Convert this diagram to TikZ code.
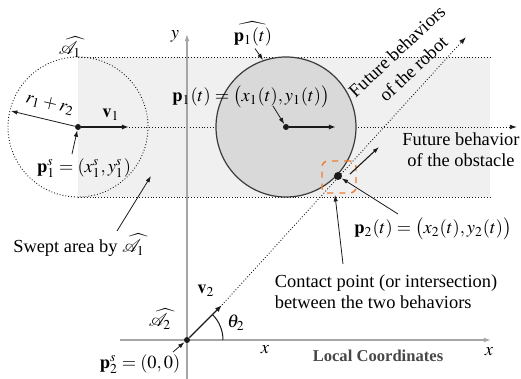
\documentclass[tikz,border=0pt]{standalone}
\usepackage{mathptmx}
\usepackage{fontspec}
\setmainfont{Liberation Serif}
\usepackage{tikz}
\usetikzlibrary{arrows.meta,positioning,calc}
\definecolor{sweptcolor}{HTML}{F0F0F0}
\definecolor{obstaclecolor}{HTML}{D9D9D9}
\definecolor{axiscolor}{HTML}{A6A6A6}
\definecolor{contactcolor}{HTML}{ED7D31}
\definecolor{ink}{HTML}{1A1A1A}
\tikzset{
  lbl/.style={inner sep=1pt, font=\fontsize{9.2}{10.5}\selectfont},
  smalllbl/.style={inner sep=1pt, font=\fontsize{8.3}{10}\selectfont\bfseries, text=ink!80},
  dotnode/.style={circle, fill=ink, inner sep=0pt, minimum size=3pt},
  trackline/.style={densely dotted, line width=0.45pt, draw=ink},
  pointarrow/.style={-{Latex[length=3.2pt,width=2.2pt]}, line width=0.4pt, draw=ink},
  velarrow/.style={-{Latex[length=3.6pt,width=2.6pt]}, line width=0.7pt, draw=ink},
  axisarrow/.style={-{Latex[length=3.6pt,width=2.4pt]}, line width=0.6pt, draw=axiscolor},
  contactbox/.style={draw=contactcolor, dashed, line width=0.7pt, rounded corners=3pt,
    minimum width=17pt, minimum height=16pt, inner sep=0pt}
}

\begin{document}
\begin{tikzpicture}[x=0.5pt, y=-0.5pt]
  \useasboundingbox (0,0) rectangle (521,379);
  % swept band of the obstacle
  \fill[sweptcolor] (78,57) rectangle (490,197);
  \draw[trackline] (78,57) -- (490,57);
  \draw[trackline] (78,197) -- (490,197);
  \node[dotnode] (p1s) at (78,127) {};
  \draw[trackline] (p1s) circle (70);
  \coordinate (obsend) at (517,127);
  \coordinate (v1s) at (129,127);
  \draw[trackline, -{Latex[length=3.6pt,width=2.4pt]}] (v1s) -- (obsend);
  \draw[velarrow] (p1s) -- (v1s);
  % obstacle at time t
  \node[circle, draw=ink!85, fill=obstaclecolor, line width=0.6pt, minimum size=70pt, inner sep=0pt] (obs) at (286,127) {};
  \node[dotnode] (p1t) at (286,127) {};
  \coordinate (v1t) at (336,127);
  \draw[velarrow] (p1t) -- (v1t);
  % local axes
  \coordinate (ybot) at (187,379);
  \coordinate (ytop) at (187,34);
  \coordinate (xleft) at (120,340);
  \coordinate (xright) at (491,340);
  \draw[axisarrow] (ybot) -- (ytop);
  \draw[axisarrow] (xleft) -- (xright);
  % robot
  \node[dotnode] (p2s) at (187,340) {};
  \coordinate (v2tip) at (222,305);
  \coordinate (robend) at (466,37);
  \draw[trackline, -{Latex[length=3.6pt,width=2.4pt]}] (v2tip) -- (robend);
  \draw[velarrow] (p2s) -- (v2tip);
  \draw[line width=0.5pt, draw=ink] (223,340) arc[start angle=0, end angle=-45, radius=36];
  % contact point
  \node[dotnode, minimum size=4pt] (p2t) at (338,176) {};
  \node[contactbox] (cbox) at (339,177) {};
  \coordinate (cvs) at (350,174);
  \coordinate (cve) at (379,147);
  \draw[pointarrow, line width=0.55pt] (cvs) -- (cve);
  % left circle labels
  \coordinate (redge) at (11,111);
  \draw[pointarrow] (p1s) -- (redge);
  \node[lbl] (A1) at (70,47) {$\widehat{\mathcal{A}}_1$};
  \node[lbl, rotate=-13] (rsum) at (50,104) {$r_1+r_2$};
  \node[lbl] (v1) at (111,115) {$\mathbf{v}_1$};
  \node[lbl] (p1slbl) at (84,168) {$\mathbf{p}_1^s=(x_1^s,y_1^s)$};
  \draw[pointarrow] (72,154) -- (p1s);
  \node[lbl] (swept) at (79,245) {Swept area by $\widehat{\mathcal{A}}_1$};
  \coordinate (sweptin) at (151,176);
  \draw[pointarrow] (117,231) -- (sweptin);
  % obstacle labels
  \node[lbl] (p1hat) at (253,34) {$\widehat{\mathbf{p}_1(t)}$};
  \draw[pointarrow] (p1hat.south) ++(2,0) -- (263,60);
  \node[lbl] (p1tlbl) at (251,97) {$\mathbf{p}_1(t)=\bigl(x_1(t),y_1(t)\bigr)$};
  \draw[pointarrow] (273,106) -- (p1t);
  \node[lbl, align=center] (obsfut) at (461,150) {Future behavior\\of the obstacle};
  \node[lbl, align=center, rotate=43, font=\fontsize{9.2}{12}\selectfont] (robfut) at (405,60) {Future behaviors\\of the robot};
  % robot labels
  \node[lbl] (ylbl) at (175,36) {$y$};
  \node[lbl] (xlbl) at (265,350) {$x$};
  \node[lbl] (xlbl2) at (489,352) {$x$};
  \node[smalllbl] (local) at (378,356) {Local Coordinates};
  \node[lbl] (v2) at (206,291) {$\mathbf{v}_2$};
  \node[lbl] (theta) at (236,323) {$\theta_2$};
  \node[lbl] (A2) at (160,319) {$\widehat{\mathcal{A}}_2$};
  \node[lbl] (p2slbl) at (140,364) {$\mathbf{p}_2^s=(0,0)$};
  \draw[pointarrow] (173,352) -- (p2s);
  % contact labels
  \node[lbl] (p2tlbl) at (433,229) {$\mathbf{p}_2(t)=\bigl(x_2(t),y_2(t)\bigr)$};
  \draw[pointarrow] (398,214) -- (p2t);
  \node[lbl, align=left] (contact) at (386,292) {Contact point (or intersection)\\between the two behaviors};
  \draw[pointarrow] (343,264) -- (335,195);
\end{tikzpicture}
\end{document}
